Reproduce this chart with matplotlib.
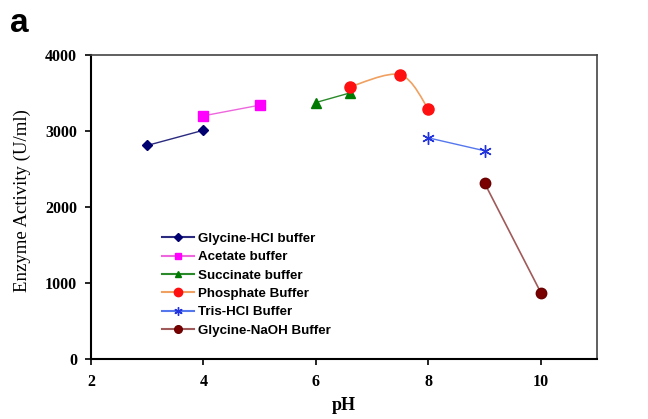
import matplotlib
import matplotlib.pyplot as plt
from matplotlib.path import Path
from matplotlib.patches import PathPatch
from matplotlib.lines import Line2D

matplotlib.pyplot.switch_backend("Agg")

# data
glycine_hcl_ph = [3, 4]
glycine_hcl_act = [2810, 3010]
acetate_ph = [4, 5]
acetate_act = [3200, 3340]
succinate_ph = [6, 6.6]
succinate_act = [3375, 3500]
phosphate_ph = [6.6, 7.5, 8]
phosphate_act = [3580, 3740, 3290]
tris_ph = [8, 9]
tris_act = [2910, 2740]
glycine_naoh_ph = [9, 10]
glycine_naoh_act = [2315, 875]

x_ticks = [2, 4, 6, 8, 10]
y_ticks = [0, 1000, 2000, 3000, 4000]


def smooth_path(xs, ys, tension=0.5):
    # Catmull-Rom style bezier through the points (like Excel smoothed lines)
    verts = [(xs[0], ys[0])]
    codes = [Path.MOVETO]
    n = len(xs)
    for i in range(n - 1):
        x0, y0 = (xs[i - 1], ys[i - 1]) if i > 0 else (xs[i], ys[i])
        x1, y1 = xs[i], ys[i]
        x2, y2 = xs[i + 1], ys[i + 1]
        x3, y3 = (xs[i + 2], ys[i + 2]) if i + 2 < n else (x2, y2)
        c1 = (x1 + (x2 - x0) * tension / 3, y1 + (y2 - y0) * tension / 3)
        c2 = (x2 - (x3 - x1) * tension / 3, y2 - (y3 - y1) * tension / 3)
        verts += [c1, c2, (x2, y2)]
        codes += [Path.CURVE4] * 3
    return Path(verts, codes)


fig = plt.figure(figsize=(6.48, 4.19), dpi=100)
fig.patch.set_facecolor("white")
ax = fig.add_axes([0.1404, 0.1432, 0.7809, 0.7255])

ax.plot(glycine_hcl_ph, glycine_hcl_act, color="#2a2a80", lw=1.0,
        marker="D", ms=5, mfc="#000070", mec="#000070")
ax.plot(acetate_ph, acetate_act, color="#ee66dd", lw=1.0,
        marker="s", ms=7.5, mfc="#ff00ff", mec="#ff00ff")
ax.plot(succinate_ph, succinate_act, color="#2a8a2a", lw=1.0,
        marker="^", ms=7, mfc="#007a00", mec="#007a00")
ax.add_patch(PathPatch(smooth_path(phosphate_ph, phosphate_act),
                       fill=False, edgecolor="#f0a060", lw=1.2))
ax.plot(phosphate_ph, phosphate_act, ls="none",
        marker="o", ms=8, mfc="#ff1010", mec="#ff1010")
ax.plot(tris_ph, tris_act, color="#5577ee", lw=1.0,
        marker=(6, 2, 0), ms=9, mec="#2233dd", mew=1.0)
ax.plot(glycine_naoh_ph, glycine_naoh_act, color="#a05a5a", lw=1.2,
        marker="o", ms=7.5, mfc="#7a0000", mec="#6a0000")

ax.set_xlim(2, 11)
ax.set_ylim(0, 4000)
ax.set_xticks(x_ticks)
ax.set_yticks(y_ticks)

serif = "Liberation Serif"
ax.set_xticklabels([str(t) for t in x_ticks], fontfamily=serif,
                   fontweight="bold", fontsize=11.5)
ax.set_yticklabels([str(t) for t in y_ticks], fontfamily=serif,
                   fontweight="bold", fontsize=11.5)
ax.tick_params(direction="out", length=4, width=1.2, color="black")
ax.tick_params(axis="x", pad=7)
ax.tick_params(axis="y", pad=6)
ax.set_xlabel("pH", fontfamily=serif, fontweight="bold", fontsize=13,
              labelpad=5)
ax.set_ylabel("Enzyme Activity (U/ml)", fontfamily=serif, fontsize=13.5)
ax.yaxis.set_label_coords(-0.118, 0.52)

for side in ["left", "bottom"]:
    ax.spines[side].set_linewidth(1.5)
    ax.spines[side].set_color("black")
for side in ["top", "right"]:
    ax.spines[side].set_linewidth(1.2)
    ax.spines[side].set_color("#444444")

handles = [
    Line2D([], [], color="#2a2a80", marker="D", ms=4, mfc="#000070", mec="#000070"),
    Line2D([], [], color="#ee66dd", marker="s", ms=5, mfc="#ff00ff", mec="#ff00ff"),
    Line2D([], [], color="#2a8a2a", marker="^", ms=5, mfc="#007a00", mec="#007a00"),
    Line2D([], [], color="#f0a060", marker="o", ms=6, mfc="#ff1010", mec="#ff1010"),
    Line2D([], [], color="#5577ee", marker=(6, 2, 0), ms=6, mec="#2233dd"),
    Line2D([], [], color="#a05a5a", marker="o", ms=5.5, mfc="#7a0000", mec="#6a0000"),
]
labels = ["Glycine-HCl buffer", "Acetate buffer", "Succinate buffer",
          "Phosphate Buffer", "Tris-HCl Buffer", "Glycine-NaOH Buffer"]
ax.legend(handles, labels, loc="upper left", bbox_to_anchor=(0.117, 0.455),
          frameon=False, handlelength=2.4, handletextpad=0.3,
          labelspacing=0.45,
          prop={"family": "Liberation Sans", "weight": "bold", "size": 9.6})

fig.text(0.015, 0.924, "a", fontfamily="Liberation Sans", fontweight="bold",
         fontsize=24, va="baseline")

fig.savefig("out.png", dpi=100)
